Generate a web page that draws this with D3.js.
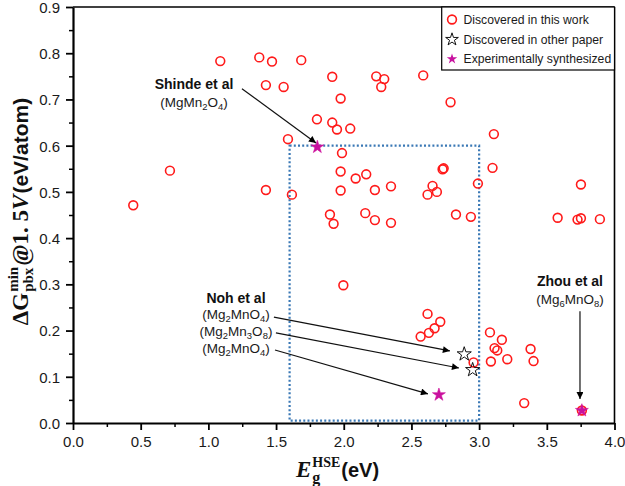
<!DOCTYPE html>
<html><head><meta charset="utf-8">
<script src="https://cdn.jsdelivr.net/npm/d3@7"></script>
<style>body{margin:0;background:#fff}svg{display:block}</style>
</head><body>
<svg id="c" width="625" height="486"></svg>
<script>
// ---- data ----
const thisWorkX = [0.445,0.716,1.088,1.376,1.425,1.425,1.470,1.556,1.588,1.617,1.686,1.802,1.898,1.915,1.915,1.925,1.950,1.977,1.987,1.977,1.977,1.997,2.048,2.088,2.159,2.166,2.230,2.230,2.240,2.277,2.299,2.349,2.349,2.568,2.587,2.619,2.619,2.629,2.656,2.671,2.688,2.713,2.730,2.738,2.789,2.829,2.939,2.959,2.991,3.080,3.087,3.099,3.109,3.114,3.134,3.168,3.208,3.333,3.380,3.402,3.580,3.727,3.752,3.752,3.892,3.759];
const thisWorkY = [0.471,0.546,0.783,0.791,0.731,0.504,0.782,0.727,0.614,0.494,0.785,0.657,0.451,0.749,0.650,0.431,0.635,0.702,0.584,0.544,0.503,0.298,0.637,0.529,0.454,0.538,0.504,0.439,0.750,0.727,0.744,0.512,0.433,0.187,0.752,0.494,0.236,0.195,0.513,0.205,0.500,0.219,0.549,0.551,0.694,0.451,0.446,0.131,0.518,0.196,0.133,0.552,0.625,0.162,0.157,0.180,0.138,0.043,0.160,0.134,0.444,0.440,0.443,0.516,0.441,0.027];
const otherPaperX = [2.890,2.952];
const otherPaperY = [0.149,0.115];
const synthX = [1.805,2.703,3.759];
const synthY = [0.597,0.061,0.027];
const xTicks = [0,0.5,1,1.5,2,2.5,3,3.5,4];
const yTicks = [0,0.1,0.2,0.3,0.4,0.5,0.6,0.7,0.8,0.9];
const legendLabels = ["Discovered in this work","Discovered in other paper","Experimentally synthesized"];
const windowBox = {x0:1.6, x1:3.0, y0:0.005, y1:0.6};

const svg = d3.select("#c");
const x = d3.scaleLinear().domain([0,4]).range([73,614.5]);
const y = d3.scaleLinear().domain([0,0.9]).range([423,7]);
const SANS = "'Liberation Sans', Arial, sans-serif";
const SERIF = "'Liberation Serif', 'DejaVu Serif', serif";

// arrow marker
svg.append("defs").append("marker").attr("id","ah").attr("viewBox","0 0 10 10")
  .attr("refX",10).attr("refY",5).attr("markerWidth",8).attr("markerHeight",7)
  .attr("markerUnits","userSpaceOnUse").attr("orient","auto")
  .append("path").attr("d","M0,0 L10,5 L0,10 z").attr("fill","#000");

// frame top/right
svg.append("line").attr("x1",x(0)).attr("x2",x(4)).attr("y1",y(0.9)).attr("y2",y(0.9)).attr("stroke","#000").attr("stroke-width",1.6);
svg.append("line").attr("x1",x(4)).attr("x2",x(4)).attr("y1",y(0.9)).attr("y2",y(0)).attr("stroke","#000").attr("stroke-width",1.6);

// minor ticks
const minorX = d3.range(0.25,4,0.5);
const minorY = d3.range(0.05,0.9,0.1);
svg.append("g").attr("transform",`translate(0,${y(0)})`)
  .call(d3.axisBottom(x).tickValues(minorX).tickSize(4).tickFormat(""))
  .call(g=>{g.select(".domain").remove();g.selectAll("text").remove();g.selectAll("line").attr("stroke-width",1.5);});
svg.append("g").attr("transform",`translate(${x(0)},0)`)
  .call(d3.axisLeft(y).tickValues(minorY).tickSize(4).tickFormat(""))
  .call(g=>{g.select(".domain").remove();g.selectAll("text").remove();g.selectAll("line").attr("stroke-width",1.5);});

// major axes
const gx = svg.append("g").attr("transform",`translate(0,${y(0)})`)
  .call(d3.axisBottom(x).tickValues(xTicks).tickSize(7).tickSizeOuter(0).tickPadding(6).tickFormat(d3.format(".1f")));
const gy = svg.append("g").attr("transform",`translate(${x(0)},0)`)
  .call(d3.axisLeft(y).tickValues(yTicks).tickSize(7).tickSizeOuter(0).tickPadding(6).tickFormat(d3.format(".1f")));
[gx,gy].forEach(g=>{
  g.select(".domain").attr("stroke-width",2.2);
  g.selectAll(".tick line").attr("stroke-width",1.8);
  g.selectAll("text").attr("font-family",SANS).attr("font-size",15).attr("fill","#1a1a1a");
});
gy.selectAll("text").attr("dy","0.36em");

// dotted window
svg.append("rect").attr("x",x(windowBox.x0)).attr("y",y(windowBox.y1))
  .attr("width",x(windowBox.x1)-x(windowBox.x0)).attr("height",y(windowBox.y0)-y(windowBox.y1))
  .attr("fill","none").attr("stroke","#3a78b5").attr("stroke-width",2.2).attr("stroke-dasharray","2,2.2");

// points: this work
svg.append("g").selectAll("circle").data(thisWorkX.map((d,i)=>[d,thisWorkY[i]])).join("circle")
  .attr("cx",d=>x(d[0])).attr("cy",d=>y(d[1])).attr("r",4.4)
  .attr("fill","none").attr("stroke","#ff1a1a").attr("stroke-width",1.6);

const star = d3.symbol().type(d3.symbolStar);
svg.append("g").selectAll("path").data(otherPaperX.map((d,i)=>[d,otherPaperY[i]])).join("path")
  .attr("transform",d=>`translate(${x(d[0])},${y(d[1])})`).attr("d",star.size(62)())
  .attr("fill","none").attr("stroke","#111").attr("stroke-width",1);
svg.append("g").selectAll("path").data(synthX.map((d,i)=>[d,synthY[i]])).join("path")
  .attr("transform",d=>`translate(${x(d[0])},${y(d[1])})`).attr("d",star.size(52)())
  .attr("fill","#c8129f").attr("stroke","#d0109a").attr("stroke-width",0.6);

// legend
const lg = svg.append("g");
lg.append("rect").attr("x",441.7).attr("y",7).attr("width",614.5-441.7).attr("height",63)
  .attr("fill","#fff").attr("stroke","#000").attr("stroke-width",1.2);
const rowsY = [19.5,39,58.5];
lg.append("circle").attr("cx",452).attr("cy",rowsY[0]).attr("r",4.4).attr("fill","none").attr("stroke","#ff1a1a").attr("stroke-width",1.6);
lg.append("path").attr("transform",`translate(452,${rowsY[1]+0.5})`).attr("d",star.size(50)()).attr("fill","none").attr("stroke","#111").attr("stroke-width",1);
lg.append("path").attr("transform",`translate(452,${rowsY[2]+0.5})`).attr("d",star.size(34)()).attr("fill","#c8129f");
lg.selectAll("text").data(legendLabels).join("text")
  .attr("x",463.5).attr("y",(d,i)=>rowsY[i]+4.5).text(d=>d)
  .attr("font-family",SANS).attr("font-size",12.2).attr("fill","#1a1a1a");

// annotations
function formula(sel, parts, xc, yb, size){
  const t = sel.append("text").attr("x",xc).attr("y",yb).attr("text-anchor","middle")
    .attr("font-family",SANS).attr("font-size",size).attr("fill","#1a1a1a");
  let inSub = false;
  parts.forEach(p=>{
    if(typeof p==="string"){ const s=t.append("tspan").text(p); if(inSub){s.attr("dy",-3);} inSub=false; }
    else { t.append("tspan").attr("font-size",size*0.7).attr("dy",inSub?0:3).text(p.sub); inSub=true; }
  });
  return t;
}
const ann = svg.append("g");
function bold(txt,xc,yb){ann.append("text").attr("x",xc).attr("y",yb).attr("text-anchor","middle")
  .attr("font-family",SANS).attr("font-weight","bold").attr("font-size",14).attr("fill","#111").text(txt);}
function arrow(a,b){ann.append("line").attr("x1",x(a[0])).attr("y1",y(a[1])).attr("x2",x(b[0])).attr("y2",y(b[1]))
  .attr("stroke","#111").attr("stroke-width",1.2).attr("marker-end","url(#ah)");}

bold("Shinde et al", x(0.894), y(0.723));
formula(ann, ["(MgMn",{sub:"2"},"O",{sub:"4"},")"], x(0.894), y(0.684), 13.5);
arrow([1.248,0.723],[1.795,0.606]);

bold("Noh et al", x(1.204), y(0.260));
formula(ann, ["(Mg",{sub:"2"},"MnO",{sub:"4"},")"], x(1.204), y(0.225), 13.5);
formula(ann, ["(Mg",{sub:"2"},"Mn",{sub:"3"},"O",{sub:"8"},")"], x(1.204), y(0.188), 13.5);
formula(ann, ["(Mg",{sub:"2"},"MnO",{sub:"4"},")"], x(1.204), y(0.151), 13.5);
arrow([1.484,0.229],[2.784,0.156]);
arrow([1.499,0.195],[2.851,0.119]);
arrow([1.492,0.158],[2.622,0.063]);

bold("Zhou et al", x(3.671), y(0.296));
formula(ann, ["(Mg",{sub:"6"},"MnO",{sub:"8"},")"], x(3.671), y(0.257), 13.5);
arrow([3.745,0.242],[3.745,0.052]);

// axis labels
function piece(g, txt, opts){
  const t = g.append("text").text(txt).attr("font-family",opts.ff).attr("font-size",opts.fs)
    .attr("font-weight",opts.fw||"bold").attr("font-style",opts.it?"italic":"normal").attr("fill","#111")
    .attr("x",opts.x).attr("y",opts.y);
  return t.node().getComputedTextLength();
}
const xl = svg.append("g");
(function(){
  let cx=0; const b=0;
  cx += piece(xl,"E",{ff:SERIF,fs:23,it:true,x:cx,y:b});
  const w1 = piece(xl,"g",{ff:SERIF,fs:16,x:cx+1,y:b+6});
  const w2 = piece(xl,"HSE",{ff:SERIF,fs:14,x:cx+1,y:b-10});
  cx += Math.max(w1,w2)+2;
  cx += piece(xl,"(eV)",{ff:SANS,fs:20,x:cx,y:b});
  xl.attr("transform",`translate(${337.5-cx/2},477)`);
})();

const yl = svg.append("g");
(function(){
  let cx=0; const b=0;
  cx += piece(yl,"\u0394G",{ff:SERIF,fs:23,x:cx,y:b});
  const w1 = piece(yl,"pbx",{ff:SERIF,fs:15,x:cx+1,y:b+5});
  const w2 = piece(yl,"min",{ff:SERIF,fs:15,x:cx+1,y:b-10});
  cx += Math.max(w1,w2)+2;
  cx += piece(yl,"@1. 5",{ff:SERIF,fs:23,x:cx,y:b});
  cx += piece(yl,"V",{ff:SERIF,fs:23,it:true,x:cx,y:b});
  cx += piece(yl,"(eV/atom)",{ff:SANS,fs:21,x:cx+1,y:b});
  yl.attr("transform",`translate(28,${212+cx/2}) rotate(-90)`);
})();
</script>
</body></html>
